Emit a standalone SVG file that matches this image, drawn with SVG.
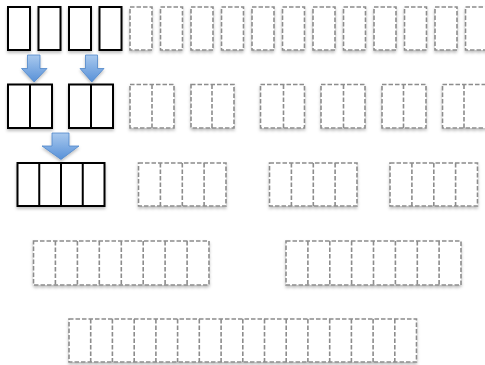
<svg xmlns="http://www.w3.org/2000/svg" width="485" height="365" viewBox="0 0 485 365">
<defs>
<filter id="sh" x="-20%" y="-20%" width="140%" height="150%">
<feDropShadow dx="0" dy="2" stdDeviation="1.5" flood-color="#000" flood-opacity="0.25"/>
</filter>
<linearGradient id="bg" x1="0" y1="0" x2="0" y2="1">
<stop offset="0" stop-color="#a9c9ee"/>
<stop offset="1" stop-color="#5891d8"/>
</linearGradient>
</defs>
<style>
.s{fill:#fff;stroke:#000;stroke-width:2}
.d{fill:#fff;stroke:#8c8c8c;stroke-width:1.6;stroke-dasharray:4.5 2}
.dl{fill:none;stroke:#8c8c8c;stroke-width:1.6;stroke-dasharray:4.5 2}
.sl{fill:none;stroke:#000;stroke-width:2}
.n{filter:url(#sh)}
.ar{fill:url(#bg);stroke:#4f86c9;stroke-width:0.8;filter:url(#sh)}
</style>
<rect width="485" height="365" fill="#fff"/>
<g id="row1">
<g id="r1b1" class="n"><rect class="s" x="8" y="7" width="22" height="43"/></g>
<g id="r1b2" class="n"><rect class="s" x="38.5" y="7" width="22" height="43"/></g>
<g id="r1b3" class="n"><rect class="s" x="69" y="7" width="22" height="43"/></g>
<g id="r1b4" class="n"><rect class="s" x="99.5" y="7" width="22" height="43"/></g>
<g id="r1b5" class="n"><rect class="d" x="130" y="7" width="22" height="43"/></g>
<g id="r1b6" class="n"><rect class="d" x="160.5" y="7" width="22" height="43"/></g>
<g id="r1b7" class="n"><rect class="d" x="191" y="7" width="22" height="43"/></g>
<g id="r1b8" class="n"><rect class="d" x="221.5" y="7" width="22" height="43"/></g>
<g id="r1b9" class="n"><rect class="d" x="252" y="7" width="22" height="43"/></g>
<g id="r1b10" class="n"><rect class="d" x="282.5" y="7" width="22" height="43"/></g>
<g id="r1b11" class="n"><rect class="d" x="313" y="7" width="22" height="43"/></g>
<g id="r1b12" class="n"><rect class="d" x="343.5" y="7" width="22" height="43"/></g>
<g id="r1b13" class="n"><rect class="d" x="374" y="7" width="22" height="43"/></g>
<g id="r1b14" class="n"><rect class="d" x="404.5" y="7" width="22" height="43"/></g>
<g id="r1b15" class="n"><rect class="d" x="435" y="7" width="22" height="43"/></g>
<g id="r1b16" class="n"><rect class="d" x="465.5" y="7" width="22" height="43"/></g>
</g>
<g id="row2">
<g id="r2p1" class="n"><rect class="s" x="8" y="84.5" width="44" height="43.5"/><line class="sl" x1="30" y1="84.5" x2="30" y2="128"/></g>
<g id="r2p2" class="n"><rect class="s" x="69" y="84.5" width="44" height="43.5"/><line class="sl" x1="91" y1="84.5" x2="91" y2="128"/></g>
<g id="r2p3" class="n"><rect class="d" x="130" y="84.5" width="44" height="43.5"/><line class="dl" x1="152" y1="84.5" x2="152" y2="128"/></g>
<g id="r2p4" class="n"><rect class="d" x="191" y="84.5" width="43" height="43.5"/><line class="dl" x1="212" y1="84.5" x2="212" y2="128"/></g>
<g id="r2p5" class="n"><rect class="d" x="260.5" y="84.5" width="44" height="43.5"/><line class="dl" x1="283.5" y1="84.5" x2="283.5" y2="128"/></g>
<g id="r2p6" class="n"><rect class="d" x="321" y="84.5" width="44" height="43.5"/><line class="dl" x1="343.5" y1="84.5" x2="343.5" y2="128"/></g>
<g id="r2p7" class="n"><rect class="d" x="382" y="84.5" width="44" height="43.5"/><line class="dl" x1="403.5" y1="84.5" x2="403.5" y2="128"/></g>
<g id="r2p8" class="n"><rect class="d" x="442.5" y="84.5" width="44" height="43.5"/><line class="dl" x1="464" y1="84.5" x2="464" y2="128"/></g>
</g>
<g id="row3">
<g id="r3q1" class="n"><rect class="s" x="17.5" y="163" width="87" height="43"/><path class="sl" d="M39.25 163V206M61 163V206M82.75 163V206"/></g>
<g id="r3q2" class="n"><rect class="d" x="138.5" y="163" width="87.5" height="43"/><path class="dl" d="M160.4 163V206M182.3 163V206M204.1 163V206"/></g>
<g id="r3q3" class="n"><rect class="d" x="269.5" y="163" width="87.5" height="43"/><path class="dl" d="M291.4 163V206M313.3 163V206M335.1 163V206"/></g>
<g id="r3q4" class="n"><rect class="d" x="390" y="163" width="87.5" height="43"/><path class="dl" d="M411.9 163V206M433.8 163V206M455.6 163V206"/></g>
</g>
<g id="row4">
<g id="r4o1" class="n"><rect class="d" x="33.5" y="241" width="175.5" height="44"/><path class="dl" d="M55.4 241V285M77.4 241V285M99.3 241V285M121.3 241V285M143.2 241V285M165.1 241V285M187.1 241V285"/></g>
<g id="r4o2" class="n"><rect class="d" x="286" y="241" width="175" height="44"/><path class="dl" d="M307.9 241V285M329.8 241V285M351.6 241V285M373.5 241V285M395.4 241V285M417.3 241V285M439.1 241V285"/></g>
</g>
<g id="row5">
<g id="r5s1" class="n"><rect class="d" x="69" y="319" width="347.5" height="43"/><path class="dl" d="M90.7 319V362M112.4 319V362M134.2 319V362M155.9 319V362M177.6 319V362M199.3 319V362M221.1 319V362M242.8 319V362M264.5 319V362M286.2 319V362M307.9 319V362M329.7 319V362M351.4 319V362M373.1 319V362M394.8 319V362"/></g>
</g>
<g id="connectors">
<path class="ar" d="M27.5 55H40V68.5H47L34.2 82L21.5 68.5H27.5Z"/>
<path class="ar" d="M85.5 55H97.5V68.5H104L91.8 82L80 68.5H85.5Z"/>
<path class="ar" d="M52 133H69V146H79L61 159.5L42 146H52Z"/>
</g>
</svg>
